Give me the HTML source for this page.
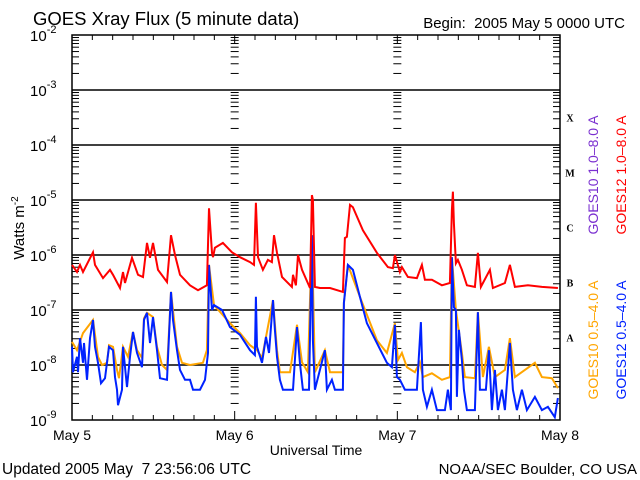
<!DOCTYPE html>
<html><head><meta charset="utf-8"><style>
html,body{margin:0;padding:0;background:#fff}
svg{display:block;font-family:"Liberation Sans",sans-serif}
</style></head><body>
<svg id="chart" width="640" height="480" viewBox="0 0 640 480" xmlns="http://www.w3.org/2000/svg">
<rect width="640" height="480" fill="#fff"/>
<text x="33" y="25" font-size="18.5">GOES Xray Flux (5 minute data)</text>
<text x="625" y="28" font-size="15" text-anchor="end">Begin:&#160; 2005 May 5 0000 UTC</text>
<text x="316" y="455" font-size="14" text-anchor="middle">Universal Time</text>
<text x="2" y="474" font-size="15.5">Updated 2005 May&#160; 7 23:56:06 UTC</text>
<text x="637" y="474" font-size="15" text-anchor="end">NOAA/SEC Boulder, CO USA</text>
<text transform="translate(24,228) rotate(-90)" font-size="15" text-anchor="middle">Watts m<tspan font-size="10" dy="-6">-2</tspan></text>
<text transform="translate(598,175) rotate(-90)" font-size="14" text-anchor="middle" fill="#7a2fd0">GOES10 1.0–8.0 A</text>
<text transform="translate(626,175) rotate(-90)" font-size="14" text-anchor="middle" fill="#ff0000">GOES12 1.0–8.0 A</text>
<text transform="translate(598,340) rotate(-90)" font-size="14" text-anchor="middle" fill="#ffa500">GOES10 0.5–4.0 A</text>
<text transform="translate(626,340) rotate(-90)" font-size="14" text-anchor="middle" fill="#0022ff">GOES12 0.5–4.0 A</text>
<g id="axes"></g>
<g id="series"></g>
</svg>
<script>
const dayLabels=["May 5","May 6","May 7","May 8"];
const decadeExps=[-2,-3,-4,-5,-6,-7,-8,-9];
const classLetters=["X","M","C","B","A"];
const classExps=[-3.5,-4.5,-5.5,-6.5,-7.5];

const g12LongHours=[0,0.74,1.18,1.62,3.10,3.39,4.57,5.61,6.05,7.08,7.52,7.82,8.85,9.74,10.47,11.06,11.51,11.95,12.69,14.01,14.60,15.19,15.93,17.41,18.59,19.91,20.21,20.65,20.80,21.09,22.27,23.60,24.78,26.26,26.85,27.14,27.44,28.17,28.91,29.50,29.80,30.24,30.98,32.45,32.60,33.04,33.34,33.93,35.11,35.40,35.55,35.84,36.58,38.06,39.97,40.27,40.56,41.01,41.45,42.92,44.99,46.61,47.35,47.64,48.38,48.68,49.56,50.89,51.63,52.07,53.10,54.58,55.76,56.05,56.20,56.35,56.64,56.94,57.53,58.26,59.44,59.89,60.33,61.66,62.10,63.87,64.61,65.34,67.26,69.33,71.69];
const g12LongLog=[-6.18,-6.31,-6.18,-6.31,-5.95,-6.18,-6.42,-6.27,-6.36,-6.60,-6.31,-6.51,-6.05,-6.36,-6.40,-5.78,-6.05,-5.78,-6.27,-6.49,-5.64,-6.00,-6.36,-6.55,-6.64,-6.55,-5.15,-5.96,-6.04,-5.87,-5.78,-5.95,-6.04,-6.13,-6.18,-5.05,-6.04,-6.27,-6.09,-6.13,-5.64,-5.96,-6.40,-6.58,-6.36,-6.55,-6.00,-6.27,-6.60,-4.91,-5.00,-6.58,-6.60,-6.60,-6.67,-5.69,-5.67,-5.09,-5.13,-5.55,-5.96,-6.22,-6.24,-6.00,-6.31,-6.22,-6.40,-6.42,-6.18,-6.45,-6.45,-6.55,-6.51,-5.18,-4.85,-5.42,-6.15,-6.09,-6.27,-6.55,-6.58,-5.96,-6.58,-6.27,-6.60,-6.51,-6.18,-6.58,-6.55,-6.58,-6.60];

const g10ShortHours=[0,0.74,1.62,3.10,3.84,4.43,5.16,5.46,6.05,6.64,6.93,7.52,8.26,9.00,9.59,10.33,10.62,11.06,11.95,12.54,13.28,14.01,14.60,15.49,16.23,17.41,19.32,19.91,20.21,20.95,23.31,24.78,26.26,27.29,28.03,28.62,29.65,30.24,30.68,32.16,33.19,33.93,34.81,35.40,35.84,37.32,38.06,39.97,40.12,40.71,42.48,44.99,46.46,47.64,48.09,48.68,49.41,50.59,51.33,51.77,53.10,54.58,55.76,56.05,56.64,57.53,57.97,59.44,59.89,60.62,61.51,62.39,63.87,64.61,65.34,66.82,68.29,69.33,70.80,71.69];
const g10ShortLog=[-7.58,-7.73,-7.42,-7.18,-7.85,-8.00,-7.96,-7.64,-7.67,-8.09,-8.24,-7.67,-7.85,-7.40,-7.73,-7.87,-7.15,-7.05,-7.13,-7.67,-8.00,-8.09,-6.67,-7.67,-7.96,-8.00,-7.96,-7.73,-6.18,-6.91,-7.24,-7.42,-7.64,-7.73,-7.87,-7.49,-6.82,-7.73,-8.13,-8.13,-7.27,-7.95,-8.13,-5.64,-8.13,-7.73,-8.13,-8.13,-6.87,-6.18,-6.76,-7.55,-7.78,-7.24,-7.91,-7.78,-8.04,-8.13,-7.95,-8.22,-8.15,-8.27,-8.22,-6.04,-7.00,-7.78,-8.22,-8.24,-7.04,-8.22,-7.67,-8.22,-8.09,-7.51,-8.22,-8.09,-7.96,-8.22,-8.24,-8.42];

const g12ShortHours=[0,0.15,0.74,0.89,1.18,1.62,1.77,2.21,2.66,3.10,3.39,3.84,4.28,4.87,5.46,6.05,6.34,6.64,6.79,7.38,7.52,8.11,8.56,9.00,9.59,10.33,10.62,11.06,11.51,11.95,12.54,12.98,14.01,14.60,14.90,15.49,15.93,16.67,17.41,17.85,18.88,19.62,20.06,20.21,20.65,20.95,22.13,23.31,24.78,26.26,26.99,27.14,27.29,28.03,28.62,29.06,29.65,29.94,30.24,30.68,31.12,32.60,33.19,33.63,34.07,34.96,35.40,35.55,35.84,37.32,37.61,38.35,38.79,39.97,40.12,40.71,41.45,42.48,43.51,44.99,46.46,47.20,47.64,47.94,48.38,49.12,50.89,51.48,51.77,52.36,53.10,53.84,55.02,55.46,55.90,56.05,56.35,56.64,56.79,57.08,57.53,57.82,58.26,59.44,59.89,60.18,61.07,61.51,61.95,62.39,62.84,63.43,63.87,64.61,65.05,65.64,66.38,67.11,68.29,69.33,70.21,71.24,71.69];
const g12ShortLog=[-7.67,-8.13,-7.85,-8.13,-7.51,-7.96,-7.60,-8.27,-7.51,-7.18,-7.67,-7.96,-8.33,-8.24,-7.67,-7.73,-8.22,-8.45,-8.73,-8.45,-7.67,-8.40,-7.85,-7.40,-7.78,-8.04,-7.18,-7.05,-7.60,-7.13,-7.73,-8.24,-8.27,-6.67,-7.18,-7.73,-8.09,-8.27,-8.27,-8.45,-8.45,-8.27,-7.78,-6.18,-7.00,-6.91,-7.00,-7.31,-7.45,-7.73,-7.82,-6.76,-7.67,-7.96,-7.49,-7.78,-6.82,-7.36,-7.85,-8.27,-8.45,-8.45,-7.31,-7.96,-8.45,-8.45,-5.64,-7.55,-8.45,-7.73,-8.45,-8.27,-8.45,-8.45,-6.87,-6.18,-6.27,-6.76,-7.24,-7.60,-7.96,-8.04,-7.27,-8.22,-8.27,-8.45,-8.45,-7.22,-8.45,-8.76,-8.45,-8.82,-8.82,-8.45,-8.82,-6.04,-6.95,-7.00,-8.58,-7.36,-7.91,-8.45,-8.82,-8.82,-7.04,-8.45,-8.45,-7.73,-8.82,-8.09,-8.82,-8.45,-8.82,-7.60,-8.45,-8.82,-8.45,-8.82,-8.58,-8.82,-8.76,-8.95,-8.60];

const NS="http://www.w3.org/2000/svg";
const L=72,R=560,T=35,B=420;
function xScale(h){return L+h*(R-L)/72;}
function yScale(lg){return T+(-2-lg)*(B-T)/7;}
function mk(tag,attrs,parent){const e=document.createElementNS(NS,tag);for(const k in attrs)e.setAttribute(k,attrs[k]);parent.appendChild(e);return e;}
const axes=document.getElementById('axes');
const series=document.getElementById('series');

decadeExps.forEach(ex=>{
  const y=yScale(ex);
  if(ex>-9&&ex<-2){
    const ln=mk('line',{x1:L,x2:R,y1:y,y2:y,stroke:'#000','stroke-width':1.5},axes);
    
    
  }
  const t=mk('text',{x:30,y:y+6,'font-size':15},axes);
  
  
  t.textContent='10';
  const s=mk('tspan',{'font-size':11,dy:-8},t);
  s.textContent=String(ex);
  if(ex>-9){
    for(let m=2;m<=9;m++){
      const yy=yScale(ex-1+Math.log10(m));
      [[L,L+7],[R-7,R],[xScale(24)-4,xScale(24)+4],[xScale(48)-4,xScale(48)+4]].forEach(p=>{
        const tk=mk('line',{x1:p[0],x2:p[1],y1:yy,y2:yy,stroke:'#000','stroke-width':1},axes);
        
        
      });
    }
  }
});
const fr=mk('rect',{x:L,y:T,width:R-L,height:B-T,fill:'none',stroke:'#000','stroke-width':1.5},axes);


for(let h=0;h<=72;h+=3){
  const x=xScale(h);
  const len=(h%24===0)?9:5;
  const a=mk('line',{x1:x,x2:x,y1:B,y2:B-len,stroke:'#000','stroke-width':1},axes);
  
  
  const b=mk('line',{x1:x,x2:x,y1:T,y2:T+len,stroke:'#000','stroke-width':1},axes);
  
  
}
dayLabels.forEach((d,i)=>{
  const t=mk('text',{x:xScale(i*24),y:440,'font-size':14,'text-anchor':'middle'},axes);
  
  
  t.textContent=d;
});
classLetters.forEach((c,i)=>{
  const t=mk('text',{x:570,y:yScale(classExps[i])+4,'font-size':10,'font-weight':'bold','text-anchor':'middle','font-family':'Liberation Serif, serif'},axes);
  
  
  t.textContent=c;
});
function drawLine(hs,vals,color,name){
  const pts=hs.map((h,i)=>xScale(h).toFixed(1)+','+yScale(vals[i]).toFixed(1)).join(' ');
  const p=mk('polyline',{points:pts,fill:'none',stroke:color,'stroke-width':2,'stroke-linejoin':'miter'},series);
  
  
}
drawLine(g10ShortHours,g10ShortLog,'#ffa500','goes10-short-line');
drawLine(g12ShortHours,g12ShortLog,'#0022ff','goes12-short-line');
drawLine(g12LongHours,g12LongLog,'#ff0000','goes12-long-line');
</script>
</body></html>
